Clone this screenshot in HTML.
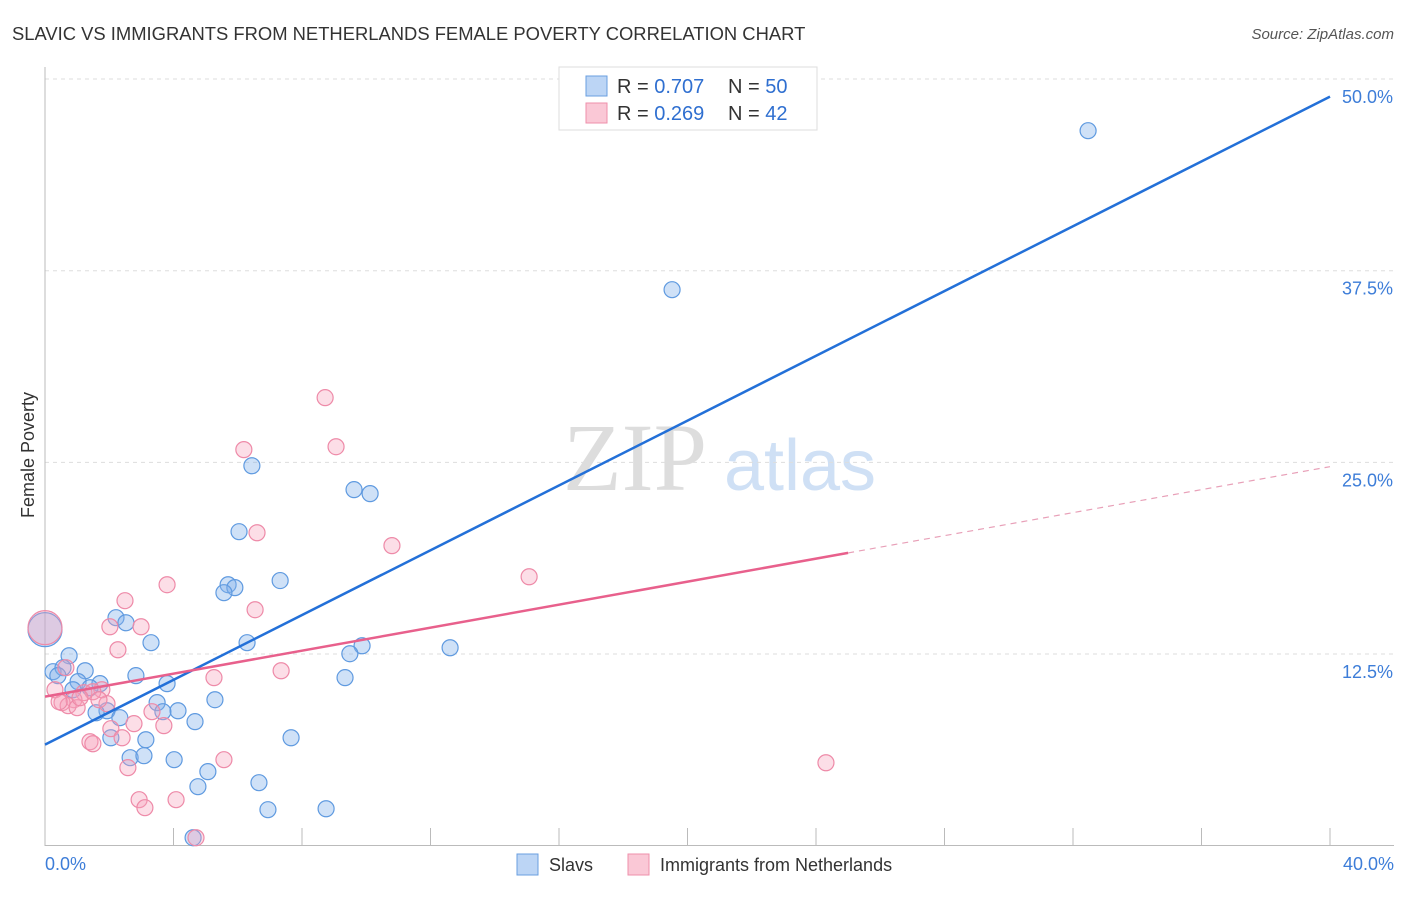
<!DOCTYPE html>
<html><head><meta charset="utf-8"><style>
body{margin:0;background:#fff;font-family:"Liberation Sans",sans-serif}
svg text{font-family:"Liberation Sans",sans-serif}
</style></head><body>
<svg id="c" width="1406" height="892" viewBox="0 0 1406 892">
<text x="12" y="40" font-size="18.4" fill="#333">SLAVIC VS IMMIGRANTS FROM NETHERLANDS FEMALE POVERTY CORRELATION CHART</text>
<text x="1394" y="39" font-size="15" fill="#555" font-style="italic" text-anchor="end">Source: ZipAtlas.com</text>
<g>
<text x="635" y="490" font-size="96" fill="#ddd" font-family="Liberation Serif" text-anchor="middle" style="font-family:'Liberation Serif',serif">ZIP</text>
<text x="800" y="490" font-size="72" fill="#cfe0f5" text-anchor="middle">atlas</text>
</g>
<g id="grid"></g>
<g id="axes"></g>
<g id="pts"></g>
<g id="lines"></g>
<text transform="translate(34,455) rotate(-90)" font-size="18" fill="#333" text-anchor="middle">Female Poverty</text>
<g>
<rect x="559" y="67" width="258" height="63" fill="#fff" stroke="#ddd"/>
<rect x="586" y="76" width="21" height="20" fill="#bcd5f5" stroke="#6a9fe0"/>
<rect x="586" y="103" width="21" height="20" fill="#fac8d6" stroke="#ef8fab"/>
<text x="617" y="93" font-size="20" fill="#333">R = <tspan fill="#2f6fd0">0.707</tspan></text>
<text x="728" y="93" font-size="20" fill="#333">N = <tspan fill="#2f6fd0">50</tspan></text>
<text x="617" y="120" font-size="20" fill="#333">R = <tspan fill="#2f6fd0">0.269</tspan></text>
<text x="728" y="120" font-size="20" fill="#333">N = <tspan fill="#2f6fd0">42</tspan></text>
</g>
<g>
<rect x="517" y="854" width="21" height="21" fill="#bcd5f5" stroke="#6a9fe0"/>
<text x="549" y="871" font-size="18" fill="#333">Slavs</text>
<rect x="628" y="854" width="21" height="21" fill="#fac8d6" stroke="#ef8fab"/>
<text x="660" y="871" font-size="18" fill="#333">Immigrants from Netherlands</text>
</g>
</svg>
<script>
const yTicks=[12.5,25,37.5,50];
const yTickLabels=["12.5%","25.0%","37.5%","50.0%"];
const xTickVals=[0,4,8,12,16,20,24,28,32,36,40];
const xEndLabels=["0.0%","40.0%"];
const slavsX=[32.47,19.52,6.44,9.62,10.12,6.04,7.32,5.70,5.91,5.57,2.21,2.52,3.30,6.29,9.87,9.49,12.61,0.75,0.25,0.56,1.25,0.40,2.83,9.34,1.03,1.71,1.40,3.80,0.87,5.29,3.49,1.93,4.14,3.67,1.59,2.33,4.67,2.05,3.14,7.66,2.65,3.08,4.02,5.07,4.76,6.66,6.94,8.75,4.61,0];
const slavsY=[46.63,36.26,24.78,23.22,22.96,20.48,17.29,17.02,16.83,16.50,14.87,14.54,13.24,13.24,13.04,12.52,12.91,12.39,11.35,11.61,11.41,11.09,11.09,10.96,10.70,10.57,10.30,10.57,10.17,9.52,9.33,8.80,8.80,8.74,8.67,8.35,8.09,7.04,6.91,7.04,5.74,5.87,5.61,4.83,3.85,4.11,2.35,2.41,0.52,14.09];
const nethX=[8.72,6.19,9.06,6.60,10.80,15.07,3.80,2.49,6.54,2.02,2.99,2.27,7.35,5.26,0.65,0.31,1.77,1.21,1.49,0.90,0.53,0.72,1.00,1.93,3.33,3.70,2.77,2.05,2.40,1.40,1.49,5.57,2.58,24.31,2.93,4.08,3.11,4.70,0,0.44,1.09,1.68];
const nethY=[29.22,25.83,26.02,20.41,19.57,17.54,17.02,15.98,15.39,14.28,14.28,12.78,11.41,10.96,11.61,10.17,10.17,9.98,10.04,9.52,9.33,9.13,9.00,9.26,8.74,7.83,7.96,7.63,7.04,6.78,6.65,5.61,5.09,5.41,3.00,3.00,2.48,0.52,14.22,9.39,9.65,9.52];
const slavsTrend=[6.59,48.85];
const nethTrend=[9.72,24.72];
const nethSolidEnd=25.0;

const NS="http://www.w3.org/2000/svg";
const X=v=>45+v/40*1285;
const Y=v=>845.7-v/12.5*191.67;
function mk(tag,attrs,parent){const e=document.createElementNS(NS,tag);for(const k in attrs)e.setAttribute(k,attrs[k]);document.getElementById(parent).appendChild(e);return e;}
yTicks.forEach((t,i)=>{
  const g=mk('line',{x1:45,x2:1394,y1:Y(t),y2:Y(t),stroke:'#ddd','stroke-dasharray':'4,4'},'grid');
  
  
  const l=mk('text',{x:1393,y:Y(t)+24,'font-size':18,fill:'#3d7dd8','text-anchor':'end'},'grid');
  l.textContent=yTickLabels[i];
  
  
});
const ax=mk('line',{x1:45,x2:45,y1:67,y2:846,stroke:'#bbb'},'axes');


const bx=mk('line',{x1:45,x2:1394,y1:845.5,y2:845.5,stroke:'#bbb'},'axes');


xTickVals.forEach(t=>{
  const k=mk('line',{x1:X(t),x2:X(t),y1:828,y2:846,stroke:'#bbb'},'axes');
  
  
});
const xl0=mk('text',{x:45,y:870,'font-size':18,fill:'#3d7dd8'},'axes');xl0.textContent=xEndLabels[0];


const xl1=mk('text',{x:1394,y:870,'font-size':18,fill:'#3d7dd8','text-anchor':'end'},'axes');xl1.textContent=xEndLabels[1];


function pts(xs,ys,fill,stroke,name){
  xs.forEach((x,i)=>{
    const big=(x===0);
    const c=mk('circle',{cx:X(x),cy:Y(ys[i]),r:big?17:8,fill:fill,stroke:stroke,'stroke-width':1.2},'pts');
    
    
  });
}
pts(slavsX,slavsY,'rgba(130,175,235,0.38)','#5f9ae0','slavs-point');
pts(nethX,nethY,'rgba(245,160,185,0.35)','#ee8aa8','netherlands-point');
const bl=mk('line',{x1:X(0),y1:Y(slavsTrend[0]),x2:X(40),y2:Y(slavsTrend[1]),stroke:'#2370d8','stroke-width':2.5},'lines');


const ny=x=>nethTrend[0]+(nethTrend[1]-nethTrend[0])*x/40;
const pl=mk('line',{x1:X(0),y1:Y(ny(0)),x2:X(nethSolidEnd),y2:Y(ny(nethSolidEnd)),stroke:'#e8608c','stroke-width':2.5},'lines');


const pd=mk('line',{x1:X(nethSolidEnd),y1:Y(ny(nethSolidEnd)),x2:X(40),y2:Y(ny(40)),stroke:'#e8a0b8','stroke-width':1.2,'stroke-dasharray':'6,5'},'lines');


</script>
</body></html>
